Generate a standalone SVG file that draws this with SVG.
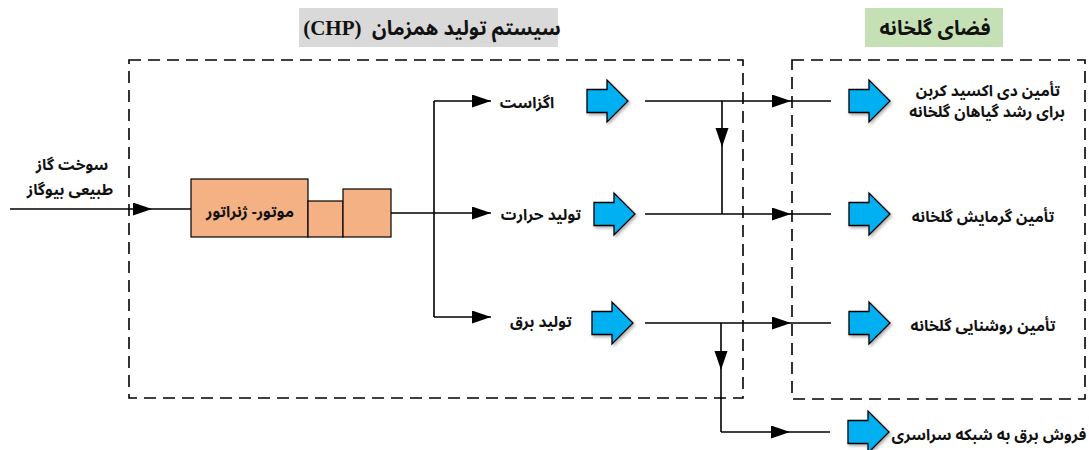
<svg xmlns="http://www.w3.org/2000/svg" xmlns:xlink="http://www.w3.org/1999/xlink" width="1089" height="450" viewBox="0 0 1089 450">
<style>
.box{fill:none;stroke:#000;stroke-width:1.6;stroke-dasharray:12 7}
.ln{fill:none;stroke:#000;stroke-width:1.6}
.ar{marker-end:url(#ah)}
.t{font-family:"Noto Sans Arabic","DejaVu Sans",sans-serif;font-weight:bold;font-size:15.5px;fill:#111;direction:rtl;text-anchor:middle}
.h{font-size:20px}
.eng{fill:#F4B183;stroke:#000;stroke-width:1.2}
.blue{fill:#00B0F0;stroke:#000;stroke-width:1.3;filter:url(#sh)}
</style>
<defs>
<marker id="ah" markerUnits="userSpaceOnUse" markerWidth="20" markerHeight="14" refX="19" refY="6.5" orient="auto">
<path d="M0,0 L19,6.5 L0,13 Z" fill="#000"/>
</marker>
<filter id="sh" x="-20%" y="-20%" width="150%" height="150%">
<feDropShadow dx="1.5" dy="2" stdDeviation="1.5" flood-color="#000" flood-opacity="0.3"/>
</filter>
<path id="barrow" d="M0,-11.5 H20 V-21 L41,0 L20,21 V11.5 H0 Z"/>
</defs>

<g id="labels">
<rect x="299" y="8" width="259" height="39" fill="#D9D9D9"/>
<text class="t h" x="432" y="35">سیستم تولید همزمان&#160; <tspan font-family="'Liberation Serif',serif" font-size="21px">(CHP)</tspan></text>
<rect x="865" y="8" width="138" height="39" fill="#C5E0B4"/>
<text class="t h" x="935" y="35">فضای گلخانه</text>
</g>

<g id="chp-box"><rect class="box" x="129" y="60" width="614" height="338"/></g>
<g id="greenhouse-box"><rect class="box" x="792" y="60" width="293" height="339"/></g>

<g id="input">
<text class="t" x="72" y="170">سوخت گاز</text>
<text class="t" x="70" y="195">طبیعی بیوگاز</text>
</g>

<g id="engine">
<rect class="eng" x="191" y="179" width="117" height="58"/>
<rect class="eng" x="308" y="201" width="35" height="36"/>
<rect class="eng" x="343" y="189" width="48" height="48"/>
<text class="t" x="250" y="217">موتور- ژنراتور</text>
</g>

<g id="connectors">
<path class="ln ar" d="M10,209 H152"/>
<path class="ln" d="M152,209 H191"/>
<path class="ln" d="M391,213 H434 M434,101 V317"/>
<path class="ln ar" d="M434,101 H491"/>
<path class="ln ar" d="M434,213 H491"/>
<path class="ln ar" d="M434,317 H491"/>
<path class="ln ar" d="M645,101 H791"/>
<path class="ln" d="M791,101 H831"/>
<path class="ln ar" d="M722,101 V147"/>
<path class="ln" d="M722,147 V214"/>
<path class="ln ar" d="M645,214 H791"/>
<path class="ln" d="M791,214 H831"/>
<path class="ln ar" d="M645,323 H791"/>
<path class="ln" d="M791,323 H831"/>
<path class="ln ar" d="M721,323 V370"/>
<path class="ln" d="M721,370 V432"/>
<path class="ln ar" d="M721,432 H790"/>
<path class="ln" d="M790,432 H830"/>
</g>

<g id="exhaust"><text class="t" x="527" y="108">اگزاست</text><use xlink:href="#barrow" class="blue" transform="translate(587,101)"/></g>
<g id="heat"><text class="t" x="541" y="220">تولید حرارت</text><use xlink:href="#barrow" class="blue" transform="translate(594,214)"/></g>
<g id="power"><text class="t" x="541" y="327">تولید برق</text><use xlink:href="#barrow" class="blue" transform="translate(592,323)"/></g>

<g id="co2"><use xlink:href="#barrow" class="blue" transform="translate(849,101)"/>
<text class="t" x="988" y="96">تأمین دی اکسید کربن</text>
<text class="t" x="987" y="117">برای رشد گیاهان گلخانه</text></g>
<g id="heating"><use xlink:href="#barrow" class="blue" transform="translate(849,214)"/>
<text class="t" x="983" y="222">تأمین گرمایش گلخانه</text></g>
<g id="lighting"><use xlink:href="#barrow" class="blue" transform="translate(849,323)"/>
<text class="t" x="983" y="331">تأمین روشنایی گلخانه</text></g>
<g id="grid"><use xlink:href="#barrow" class="blue" transform="translate(848,432)"/>
<text class="t" x="989" y="440">فروش برق به شبکه سراسری</text></g>
</svg>
